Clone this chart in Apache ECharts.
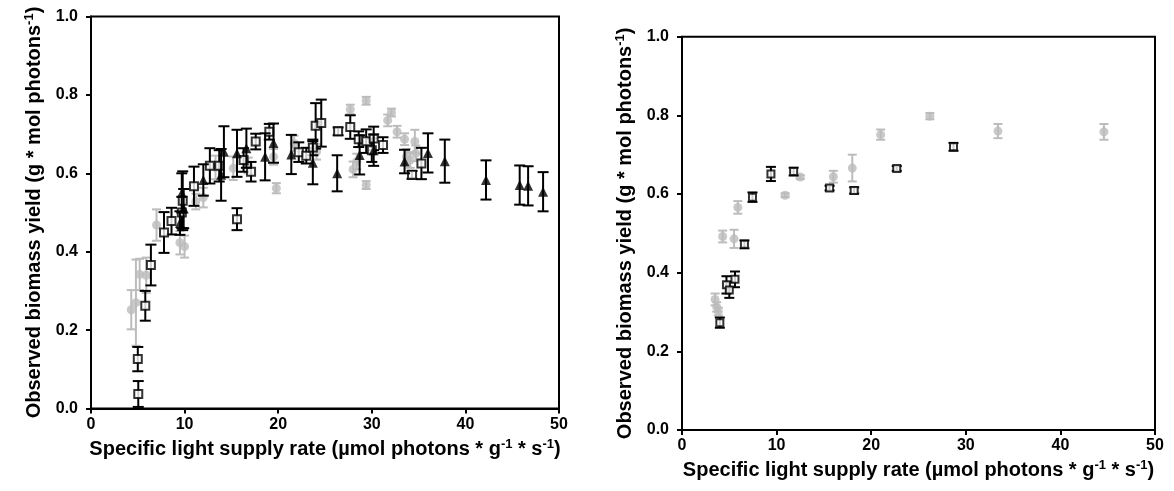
<!DOCTYPE html>
<html>
<head>
<meta charset="utf-8">
<script src="https://cdn.jsdelivr.net/npm/echarts@6/dist/echarts.min.js"></script>
<style>
html,body{margin:0;padding:0;background:#fff;}
#chart{width:1174px;height:491px;}
</style>
</head>
<body>
<div id="chart"></div>
<script>
// ---- data: [x, y, error] ----
const leftCircles = [
  [4.3,0.252,0.05],[4.8,0.27,0.11],[5.2,0.342,0.04],[5.9,0.34,0.045],[7.0,0.468,0.04],
  [9.5,0.423,0.03],[10.0,0.413,0.028],[11.2,0.528,0.02],[12.0,0.538,0.025],[13.3,0.615,0.03],
  [15.2,0.613,0.03],[16.8,0.62,0.02],[19.5,0.642,0.02],[19.8,0.562,0.013],[21.7,0.676,0.02],
  [24.1,0.655,0.02],[27.7,0.763,0.012],[28.0,0.61,0.02],[28.4,0.63,0.02],[29.4,0.785,0.01],
  [29.4,0.57,0.01],[31.7,0.735,0.015],[32.1,0.755,0.01],[32.7,0.706,0.015],[33.5,0.687,0.015],
  [33.7,0.642,0.02],[34.6,0.681,0.03],[34.7,0.651,0.02],[34.1,0.634,0.02]
];
const leftSquares = [
  [5.05,0.037,0.033],[5.0,0.126,0.031],[5.8,0.262,0.038],[6.4,0.366,0.052],[7.8,0.449,0.052],
  [8.6,0.478,0.034],[9.8,0.53,0.075],[9.7,0.5,0.04],[11.0,0.567,0.05],[12.7,0.619,0.045],
  [13.7,0.619,0.04],[15.6,0.483,0.028],[16.3,0.634,0.03],[17.1,0.604,0.025],[17.6,0.681,0.02],
  [19.05,0.706,0.02],[22.2,0.654,0.025],[23.0,0.645,0.02],[23.7,0.666,0.02],[24.0,0.721,0.058],
  [24.6,0.728,0.06],[26.4,0.707,0.01],[27.7,0.718,0.03],[28.6,0.687,0.02],[29.4,0.682,0.03],
  [30.2,0.689,0.03],[30.0,0.659,0.03],[31.2,0.672,0.02],[34.3,0.596,0.01],[35.3,0.625,0.04]
];
const leftTriangles = [
  [9.5,0.473,0.03],[9.7,0.55,0.05],[9.9,0.51,0.05],[12.0,0.583,0.04],[13.9,0.596,0.066],
  [14.2,0.655,0.065],[15.6,0.651,0.06],[16.6,0.664,0.05],[18.6,0.642,0.06],[19.5,0.677,0.05],
  [21.4,0.648,0.05],[23.7,0.627,0.055],[26.3,0.6,0.046],[28.7,0.647,0.05],[30.2,0.659,0.04],
  [33.5,0.63,0.03],[36.0,0.652,0.05],[37.8,0.631,0.055],[42.2,0.583,0.05],[45.8,0.57,0.05],
  [46.7,0.568,0.05],[48.3,0.553,0.05]
];
const rightCircles = [
  [3.5,0.332,0.015],[3.67,0.313,0.012],[3.84,0.301,0.01],[4.3,0.492,0.015],[5.5,0.486,0.023],
  [5.9,0.566,0.016],[10.9,0.597,0.005],[12.5,0.643,0.005],[16.0,0.644,0.015],[18.0,0.666,0.034],
  [21.0,0.751,0.013],[26.2,0.798,0.008],[33.4,0.76,0.018],[44.6,0.758,0.02]
];
const rightSquares = [
  [4.0,0.273,0.013],[4.7,0.369,0.022],[5.0,0.356,0.02],[5.6,0.383,0.02],[6.6,0.472,0.01],
  [7.45,0.592,0.012],[9.4,0.651,0.018],[11.8,0.657,0.01],[15.6,0.615,0.006],[18.2,0.609,0.008],
  [22.7,0.665,0.006],[28.7,0.72,0.01]
];
const xTicks = [0,10,20,30,40,50];
const yTicks = [0,0.2,0.4,0.6,0.8,1.0];
const xTitle = 'Specific light supply rate (µmol photons * g{sup|-1} * s{sup|-1})';
const yTitle = 'Observed biomass yield (g * mol photons{sup|-1})';

const GREY = '#bcbcbc';
const FONT = 'Liberation Sans';

function errSeries(data, idx, color, cap, lw, z) {
  return {
    type: 'custom', xAxisIndex: idx, yAxisIndex: idx, z: z, silent: true,
    data: data,
    encode: {x: 0, y: 1},
    renderItem: function (params, api) {
      const x = api.value(0), y = api.value(1), e = api.value(2);
      const t = api.coord([x, y + e]);
      const b = api.coord([x, y - e]);
      const st = {stroke: color, lineWidth: lw};
      return {type: 'group', children: [
        {type: 'line', shape: {x1: t[0], y1: t[1], x2: b[0], y2: b[1]}, style: st},
        {type: 'line', shape: {x1: t[0]-cap/2, y1: t[1], x2: t[0]+cap/2, y2: t[1]}, style: st},
        {type: 'line', shape: {x1: b[0]-cap/2, y1: b[1], x2: b[0]+cap/2, y2: b[1]}, style: st}
      ]};
    }
  };
}

const supStyle = {fontFamily: FONT, fontWeight: 'bold', fontSize: 13, color: '#000', verticalAlign: 'top', padding: [0,0,10,0]};

function xAx(idx) {
  return {
    gridIndex: idx, type: 'value', min: 0, max: 50, interval: 10,
    name: xTitle, nameLocation: 'middle', nameGap: 29,
    nameTextStyle: {fontFamily: FONT, fontWeight: 'bold', fontSize: 20, color: '#000', rich: {sup: supStyle}},
    axisLine: {show: true, onZero: false, lineStyle: {color: '#000', width: 2}},
    axisTick: {show: true, inside: false, length: 5, lineStyle: {color: '#000', width: 2}},
    axisLabel: {fontFamily: FONT, fontWeight: 'bold', fontSize: 16, color: '#000', margin: 8},
    splitLine: {show: false}
  };
}
function yAx(idx) {
  return {
    gridIndex: idx, type: 'value', min: 0, max: 1, interval: 0.2,
    name: yTitle, nameLocation: 'middle', nameGap: 45, nameRotate: 90,
    nameTextStyle: {fontFamily: FONT, fontWeight: 'bold', fontSize: 20, color: '#000', rich: {sup: supStyle}},
    axisLine: {show: true, onZero: false, lineStyle: {color: '#000', width: 2}},
    axisTick: {show: true, inside: false, length: 5, lineStyle: {color: '#000', width: 2}},
    axisLabel: {fontFamily: FONT, fontWeight: 'bold', fontSize: 16, color: '#000', margin: 13,
      formatter: v => v.toFixed(1)},
    splitLine: {show: false}
  };
}

const chart = echarts.init(document.getElementById('chart'), null, {renderer: 'canvas'});
chart.setOption({
  animation: false,
  backgroundColor: '#fff',
  grid: [
    {left: 91, top: 16.5, width: 468, height: 392, show: true, borderColor: '#000', borderWidth: 2, backgroundColor: 'transparent'},
    {left: 682, top: 36.7, width: 473, height: 393.3, show: true, borderColor: '#000', borderWidth: 2, backgroundColor: 'transparent'}
  ],
  xAxis: [xAx(0), xAx(1)],
  yAxis: [yAx(0), yAx(1)],
  series: [
    errSeries(leftCircles, 0, GREY, 9, 2, 1),
    {type: 'scatter', xAxisIndex: 0, yAxisIndex: 0, z: 2, data: leftCircles.map(d => [d[0], d[1]]),
      symbol: 'circle', symbolSize: 9, itemStyle: {color: GREY}},
    errSeries(leftSquares, 0, '#000', 11, 2, 3),
    {type: 'scatter', xAxisIndex: 0, yAxisIndex: 0, z: 4, data: leftSquares.map(d => [d[0], d[1]]),
      symbol: 'rect', symbolSize: 8, itemStyle: {color: '#fff', borderColor: '#000', borderWidth: 2}},
    errSeries(leftTriangles, 0, '#000', 11, 2, 5),
    {type: 'scatter', xAxisIndex: 0, yAxisIndex: 0, z: 6, data: leftTriangles.map(d => [d[0], d[1]]),
      symbol: 'triangle', symbolSize: 10, itemStyle: {color: '#000'}},
    errSeries(rightCircles, 1, GREY, 9, 2, 1),
    {type: 'scatter', xAxisIndex: 1, yAxisIndex: 1, z: 2, data: rightCircles.map(d => [d[0], d[1]]),
      symbol: 'circle', symbolSize: 9, itemStyle: {color: GREY}},
    errSeries(rightSquares, 1, '#000', 10, 2, 3),
    {type: 'scatter', xAxisIndex: 1, yAxisIndex: 1, z: 4, data: rightSquares.map(d => [d[0], d[1]]),
      symbol: 'rect', symbolSize: 7, itemStyle: {color: '#fff', borderColor: '#000', borderWidth: 2}}
  ]
});
</script>
</body>
</html>
